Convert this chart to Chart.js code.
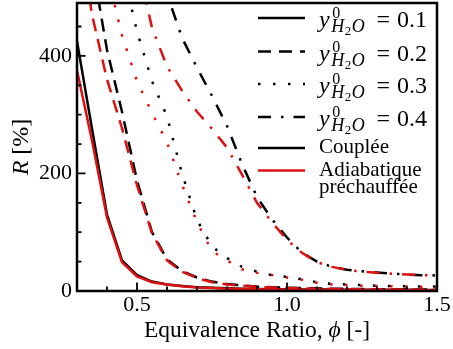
<!DOCTYPE html>
<html><head><meta charset="utf-8">
<script src="https://cdn.jsdelivr.net/npm/chart.js@4/dist/chart.umd.min.js"></script>
<style>html,body{margin:0;padding:0;background:#fff;overflow:hidden;}canvas{display:block;}</style>
</head><body>
<canvas id="c" width="453" height="349"></canvas>
<script>
// ---- data ----
const phi = [0.30,0.35,0.40,0.45,0.50,0.55,0.60,0.65,0.70,0.75,0.80,0.85,0.90,0.95,1.00,1.05,1.10,1.15,1.20,1.25,1.30,1.35,1.40,1.45,1.50];
// Couplée (black)
const coupled01 = [425,276,130,52,27,16,11,8.5,6.5,5.5,4.5,4,3.5,3,3,2.5,2.5,2.5,2,2,2,2,2,1.5,1.5];
const coupled02 = [710,560,410,305,188,100,54,34,23,16,12,9.5,7.5,6.5,5.5,5,4.5,4,3.5,3.5,3,3,3,2.5,2.5];
const coupled03 = [850,750,650,550,442,357,297,200,121,76,56,41,33,27,24,20,15,12,11,10,9,8.5,8,7.5,7.5];
const coupled04 = [1000,900,820,740,660,580,505,431,380,332,281,216,160,122,91,65,50,41,36,33.5,31.5,29.5,28,27,26.5];
// Adiabatique préchauffée (red)
const adiab01 = [375,256,125,49,25,15,11,8,6,5,4,3.5,3,2.5,2.5,2,2,2,2,1.5,1.5,1.5,1.5,1,1];
const adiab02 = [640,470,360,277,180,98,52,33,22,15,11,9,7,6,5,4.5,4,3.5,3,3,2.5,2.5,2.5,2,2];
const adiab03 = [760,650,541,435,357,303,253,181,117,68,52,37,31,27,23,19,14,11,10,9,8.5,8,7.5,7,7];
const adiab04 = [1000,900,800,680,560,448,382,341,305,276,244,198,150,117,87,65,49,41,36,33,31,29.5,28,27,26.5];

const waterFractions = ['0.1','0.2','0.3','0.4'];
const modelLabels = ['Couplée', 'Adiabatique\npréchauffée'];
const xTickValues = [0.5, 1.0, 1.5];
const xTickLabels = ['0.5','1.0','1.5'];
const xMinorTicks = [0.3,0.4,0.6,0.7,0.8,0.9,1.1,1.2,1.3,1.4];
const yTickValues = [0, 200, 400];
const yTickLabels = ['0','200','400'];
const yMinorTicks = [50,100,150,250,300,350,450];
const xRange = [0.3, 1.5];
const yRange = [0, 490];

// ---- styles ----
const FONT = '"Liberation Serif", "Times New Roman", serif';
const RED = 'rgb(222,16,16)';
const BLACK = '#000';
const DASHES = [[], [13, 8], [2.5, 12.5], [13, 10, 2.5, 10]];

const toPts = arr => phi.map((p, i) => ({x: p, y: arr[i]}));
const redSets = [adiab01, adiab02, adiab03, adiab04];
const blackSets = [coupled01, coupled02, coupled03, coupled04];
const datasets = [];
redSets.forEach((arr, k) => datasets.push({label: 'Adiabatique ' + waterFractions[k], data: toPts(arr), borderColor: RED, borderDash: DASHES[k]}));
blackSets.forEach((arr, k) => datasets.push({label: 'Couplée ' + waterFractions[k], data: toPts(arr), borderColor: BLACK, borderDash: DASHES[k]}));
datasets.forEach(d => { d.borderWidth = 2.5; d.pointRadius = 0; d.tension = 0; d.fill = false; d.borderCapStyle = 'butt'; });

function drawMathLabel(ctx, x, b, val, rightEdge) {
  ctx.textAlign = 'left'; ctx.textBaseline = 'alphabetic';
  ctx.font = `italic 24px ${FONT}`;
  ctx.fillText('y', x, b);
  const sx = x + ctx.measureText('y').width + 1.5;
  ctx.font = `16px ${FONT}`;
  ctx.fillText('0', sx + 1, b - 9);
  ctx.font = `italic 18px ${FONT}`;
  ctx.fillText('H', sx, b + 5);
  let cx = sx + ctx.measureText('H').width + 0.5;
  ctx.font = `13px ${FONT}`;
  ctx.fillText('2', cx, b + 8);
  cx += ctx.measureText('2').width + 0.5;
  ctx.font = `italic 18px ${FONT}`;
  ctx.fillText('O', cx, b + 5);
  ctx.font = `24px ${FONT}`;
  const wv = ctx.measureText(val).width;
  const wEq = ctx.measureText('=').width;
  const nx = rightEdge - wv;
  ctx.fillText(val, nx, b);
  ctx.fillText('=', nx - 7 - wEq, b);
}

const decor = {
  id: 'decor',
  afterDatasetsDraw(chart) {
    const {ctx, chartArea: a, scales} = chart;
    const xs = scales.x, ys = scales.y;
    ctx.save();
    // frame
    ctx.strokeStyle = '#000';
    ctx.lineWidth = 2.5;
    ctx.strokeRect(a.left, a.top, a.right - a.left, a.bottom - a.top);
    // inward ticks
    ctx.lineWidth = 1.8;
    ctx.beginPath();
    const tick = (v, len, horiz) => {
      if (horiz) { const p = xs.getPixelForValue(v); ctx.moveTo(p, a.bottom); ctx.lineTo(p, a.bottom - len); }
      else { const p = ys.getPixelForValue(v); ctx.moveTo(a.left, p); ctx.lineTo(a.left + len, p); }
    };
    xTickValues.forEach(v => tick(v, 8.5, true));
    xMinorTicks.forEach(v => tick(v, 4.5, true));
    yTickValues.forEach(v => tick(v, 8.5, false));
    yMinorTicks.forEach(v => tick(v, 4.5, false));
    ctx.stroke();

    // axis titles
    ctx.fillStyle = '#000';
    ctx.textBaseline = 'alphabetic';
    ctx.textAlign = 'left';
    const xParts = [['Equivalence Ratio, ', '23.5px'], ['\u03D5', 'italic 23.5px'], [' [-]', '23.5px']];
    let tw = 0;
    xParts.forEach(p => { ctx.font = `${p[1]} ${FONT}`; tw += ctx.measureText(p[0]).width; });
    let tx = (a.left + a.right) / 2 - tw / 2;
    xParts.forEach(p => { ctx.font = `${p[1]} ${FONT}`; ctx.fillText(p[0], tx, 337); tx += ctx.measureText(p[0]).width; });

    const yParts = [['R', 'italic 24px'], [' [%]', '24px']];
    let th = 0;
    yParts.forEach(p => { ctx.font = `${p[1]} ${FONT}`; th += ctx.measureText(p[0]).width; });
    ctx.save();
    ctx.translate(28, (a.top + a.bottom) / 2 + th / 2);
    ctx.rotate(-Math.PI / 2);
    let ty = 0;
    yParts.forEach(p => { ctx.font = `${p[1]} ${FONT}`; ctx.fillText(p[0], ty, 0); ty += ctx.measureText(p[0]).width; });
    ctx.restore();

    // legend
    const lx0 = a.right - 179, lx1 = a.right - 132, txt = a.right - 118;
    const rows = [15, 48.5, 81, 114];
    ctx.lineWidth = 2.5;
    ctx.lineCap = 'butt';
    waterFractions.forEach((val, k) => {
      const yy = a.top + rows[k];
      ctx.strokeStyle = BLACK;
      ctx.setLineDash(DASHES[k]);
      ctx.beginPath(); ctx.moveTo(lx0, yy); ctx.lineTo(lx1, yy); ctx.stroke();
      ctx.setLineDash([]);
      drawMathLabel(ctx, txt, yy + 9, val, a.right - 10);
    });
    const mRows = [145, 167.5];
    const mColors = [BLACK, RED];
    modelLabels.forEach((lab, k) => {
      const yy = a.top + mRows[k];
      ctx.strokeStyle = mColors[k];
      ctx.setLineDash([]);
      ctx.beginPath(); ctx.moveTo(lx0, yy); ctx.lineTo(lx1, yy); ctx.stroke();
      ctx.font = `21px ${FONT}`;
      ctx.fillStyle = '#000';
      ctx.textAlign = 'left';
      lab.split('\n').forEach((line, j) => ctx.fillText(line, txt, yy + 5 + j * 17));
    });
    ctx.restore();
  }
};

const labelFor = (vals, labels) => (value) => {
  const i = vals.findIndex(v => Math.abs(v - value) < 1e-6);
  return i >= 0 ? labels[i] : '';
};

new Chart(document.getElementById('c'), {
  type: 'line',
  data: {datasets},
  options: {
    responsive: false,
    devicePixelRatio: 1,
    animation: false,
    layout: {padding: {top: 3, right: 16, left: 0, bottom: 0}},
    plugins: {legend: {display: false}, tooltip: {enabled: false}, title: {display: false}},
    scales: {
      x: {
        type: 'linear', min: xRange[0], max: xRange[1],
        border: {display: false},
        grid: {display: false, drawTicks: false},
        afterBuildTicks: s => { s.ticks = [...xTickValues, ...xMinorTicks].sort((p, q) => p - q).map(v => ({value: v})); },
        afterFit: s => { s.height = 58; s.paddingLeft = 0; s.paddingRight = 0; },
        ticks: {autoSkip: false, maxRotation: 0, padding: 1, color: '#000', font: {family: FONT, size: 22},
                callback: labelFor(xTickValues, xTickLabels)}
      },
      y: {
        type: 'linear', min: yRange[0], max: yRange[1],
        border: {display: false},
        grid: {display: false, drawTicks: false},
        afterBuildTicks: s => { s.ticks = [...yTickValues, ...yMinorTicks].sort((p, q) => p - q).map(v => ({value: v})); },
        afterFit: s => { s.width = 77; s.paddingTop = 0; s.paddingBottom = 0; },
        ticks: {autoSkip: false, padding: 5, color: '#000', font: {family: FONT, size: 22},
                callback: labelFor(yTickValues, yTickLabels)}
      }
    }
  },
  plugins: [decor]
});
</script>
</body></html>
